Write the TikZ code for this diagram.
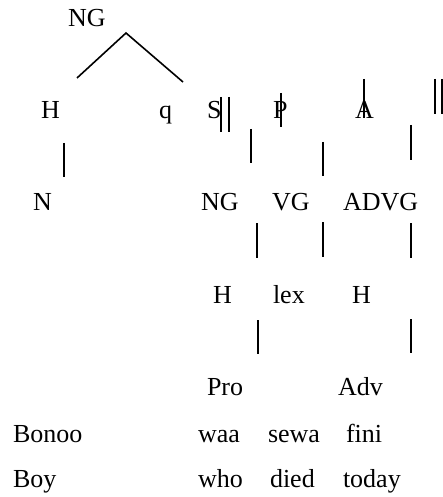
\documentclass[tikz,border=0pt]{standalone}
\usepackage{fontspec}
\setmainfont{Liberation Serif}
\begin{document}
\begin{tikzpicture}[x=1pt,y=-1pt,
  lbl/.style={anchor=base west,inner sep=0pt,outer sep=0pt,font=\fontsize{26}{30}\selectfont},
  stub/.style={line width=1.6pt,line cap=butt}]
\useasboundingbox (0,0) rectangle (443,497);
% row 1
\node[lbl] (ngtop) at (68,27) {NG};
% row 2
\node[lbl] (h1) at (41,119) {H};
\node[lbl] (q) at (159,119) {q};
\node[lbl] (s) at (207,119) {S};
\node[lbl] (p) at (273,119) {P};
\node[lbl] (a) at (355,119) {A};
% row 3
\node[lbl] (n) at (33,210) {N};
\node[lbl] (ng2) at (201,210) {NG};
\node[lbl] (vg) at (272,210) {VG};
\node[lbl] (advg) at (343,210) {ADVG};
% row 4
\node[lbl] (h2) at (213,303) {H};
\node[lbl] (lex) at (273,303) {lex};
\node[lbl] (h3) at (352,303) {H};
% row 5
\node[lbl] (pro) at (207,395) {Pro};
\node[lbl] (adv) at (338,395) {Adv};
% row 6
\node[lbl] (bonoo) at (13,442) {Bonoo};
\node[lbl] (waa) at (198,442) {waa};
\node[lbl] (sewa) at (268,442) {sewa};
\node[lbl] (fini) at (346,442) {fini};
% row 7
\node[lbl] (boy) at (13,487) {Boy};
\node[lbl] (who) at (198,487) {who};
\node[lbl] (died) at (270,487) {died};
\node[lbl] (today) at (343,487) {today};
% lines
\draw[stub] (77,78) -- (126,33) -- (183,82);
\draw[stub] (221,97) -- (221,132);
\draw[stub] (229,97) -- (229,132);
\draw[stub] (281,93) -- (281,127);
\draw[stub] (364,79) -- (364,118);
\draw[stub] (435,79) -- (435,114);
\draw[stub] (442,79) -- (442,114);
\draw[stub] (64,143) -- (64,177);
\draw[stub] (251,129) -- (251,163);
\draw[stub] (323,142) -- (323,176);
\draw[stub] (411,125) -- (411,160);
\draw[stub] (257,223) -- (257,258);
\draw[stub] (323,222) -- (323,257);
\draw[stub] (411,223) -- (411,258);
\draw[stub] (258,320) -- (258,354);
\draw[stub] (411,319) -- (411,353);
\end{tikzpicture}
\end{document}
